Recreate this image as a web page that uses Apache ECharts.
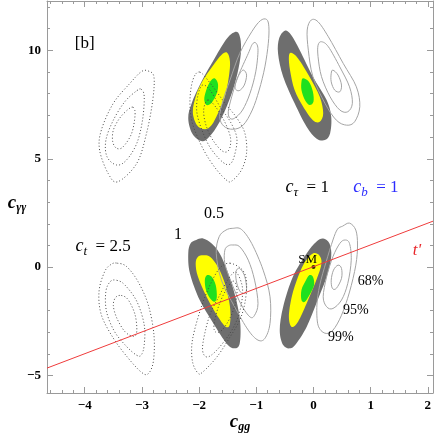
<!DOCTYPE html>
<html>
<head>
<meta charset="utf-8">
<script src="https://cdn.jsdelivr.net/npm/echarts@6/dist/echarts.min.js"></script>
<style>
  html, body { margin: 0; padding: 0; background: #fff; }
  #chart { width: 436px; height: 436px; }
</style>
</head>
<body>
<div id="chart"></div>
<script>
// axis ranges and ticks
const xMin = -4.66, xMax = 2.09;
const yMin = -5.81, yMax = 12.28;
const xMajor = [-4, -3, -2, -1, 0, 1, 2];
const xMinor = [-4.6, -4.4, -4.2, -3.8, -3.6, -3.4, -3.2, -2.8, -2.6, -2.4, -2.2, -1.8, -1.6, -1.4, -1.2,
  -0.8, -0.6, -0.4, -0.2, 0.2, 0.4, 0.6, 0.8, 1.2, 1.4, 1.6, 1.8, 2.0];
const yMajor = [-5, 0, 5, 10];
const yMinor = [-4, -3, -2, -1, 1, 2, 3, 4, 6, 7, 8, 9, 11, 12];

// filled confidence regions (99% gray, 95% yellow, 68% green), four copies
const grayUL = [[-1.35,10.86],[-1.28,10.56],[-1.27,9.87],[-1.33,8.94],[-1.45,7.86],[-1.64,6.71],[-1.83,5.99],[-1.96,5.82],[-2.12,6.17],[-2.19,6.87],[-2.13,7.56],[-1.96,8.55],[-1.73,9.63],[-1.51,10.56]];
const yellowUL = [[-1.51,9.89],[-1.46,9.48],[-1.48,8.79],[-1.55,7.86],[-1.67,7.10],[-1.78,6.56],[-1.90,6.36],[-2.04,6.56],[-2.11,7.17],[-2.05,7.94],[-1.93,8.63],[-1.75,9.33],[-1.61,9.79]];
const greenUL = [[-1.73,8.71],[-1.67,8.45],[-1.69,8.02],[-1.78,7.59],[-1.87,7.48],[-1.91,7.74],[-1.88,8.13],[-1.81,8.55]];
const grayUR = [[-0.50,10.91],[-0.39,10.71],[-0.24,10.01],[-0.01,8.79],[0.23,7.71],[0.31,6.94],[0.29,6.17],[0.20,5.86],[0.05,5.94],[-0.12,6.48],[-0.33,7.56],[-0.53,8.79],[-0.62,9.87],[-0.60,10.56]];
const yellowUR = [[-0.39,9.89],[-0.27,9.63],[-0.07,8.79],[0.11,7.86],[0.17,7.10],[0.11,6.71],[-0.01,6.78],[-0.18,7.40],[-0.33,8.17],[-0.41,9.09],[-0.43,9.71]];
const greenUR = [[-0.18,8.71],[-0.08,8.55],[-0.01,8.09],[0.00,7.63],[-0.07,7.48],[-0.15,7.71],[-0.21,8.17],[-0.21,8.55]];
const grayLL = [[-2.05,1.25],[-1.93,1.32],[-1.78,1.09],[-1.64,0.63],[-1.49,-0.29],[-1.35,-1.52],[-1.28,-2.60],[-1.29,-3.52],[-1.38,-3.75],[-1.52,-3.52],[-1.75,-2.60],[-1.99,-1.52],[-2.16,-0.29],[-2.19,0.63],[-2.15,1.09]];
const yellowLL = [[-1.93,0.55],[-1.81,0.48],[-1.67,0.01],[-1.55,-0.75],[-1.46,-1.83],[-1.46,-2.60],[-1.53,-2.76],[-1.67,-2.29],[-1.87,-1.37],[-2.02,-0.45],[-2.06,0.17],[-2.02,0.48]];
const greenLL = [[-1.86,-0.37],[-1.78,-0.45],[-1.71,-0.83],[-1.69,-1.37],[-1.73,-1.60],[-1.81,-1.44],[-1.88,-1.06],[-1.90,-0.60]];
const grayLR = [[0.17,1.32],[0.28,1.09],[0.31,0.48],[0.23,-0.45],[0.05,-1.68],[-0.12,-2.76],[-0.30,-3.52],[-0.41,-3.75],[-0.53,-3.60],[-0.59,-2.91],[-0.53,-1.83],[-0.36,-0.45],[-0.12,0.63],[0.05,1.17]];
const yellowLR = [[-0.01,0.63],[0.10,0.55],[0.14,0.17],[0.05,-0.60],[-0.12,-1.68],[-0.27,-2.52],[-0.38,-2.76],[-0.43,-2.29],[-0.38,-1.37],[-0.27,-0.45],[-0.15,0.24]];
const greenLR = [[-0.07,-0.37],[-0.01,-0.45],[0.01,-0.83],[-0.07,-1.29],[-0.15,-1.60],[-0.21,-1.52],[-0.21,-1.06],[-0.13,-0.60]];

// solid open contours
const solidUL1 = [[-0.82,11.43],[-0.78,11.09],[-0.79,10.33],[-0.85,9.24],[-0.95,8.17],[-1.07,7.25],[-1.23,6.55],[-1.41,6.36],[-1.57,6.51],[-1.64,6.94],[-1.58,7.71],[-1.46,8.63],[-1.29,9.86],[-1.08,10.86],[-0.93,11.37]];
const solidUL2 = [[-1.01,10.35],[-0.97,10.01],[-1.01,9.01],[-1.11,8.02],[-1.24,7.25],[-1.38,6.87],[-1.46,6.87],[-1.49,7.17],[-1.43,7.86],[-1.32,8.79],[-1.14,9.86],[-1.07,10.28]];
const solidUL3 = [[-1.22,9.09],[-1.17,8.86],[-1.21,8.40],[-1.30,8.14],[-1.37,8.25],[-1.35,8.60],[-1.28,8.97]];
const solidUR1 = [[-0.04,11.40],[0.08,11.32],[0.26,10.63],[0.52,9.40],[0.75,8.32],[0.81,7.40],[0.72,6.71],[0.58,6.55],[0.40,6.78],[0.20,7.56],[-0.01,8.79],[-0.09,10.01],[-0.11,10.94]];
const solidUR2 = [[0.14,10.40],[0.26,10.17],[0.46,9.24],[0.63,8.32],[0.68,7.56],[0.60,7.17],[0.46,7.25],[0.29,7.86],[0.14,8.79],[0.08,9.71],[0.08,10.24]];
const solidUR3 = [[0.34,9.09],[0.43,8.86],[0.49,8.40],[0.46,8.09],[0.37,8.17],[0.31,8.55],[0.31,8.94]];
const solidLL1 = [[-1.41,1.79],[-1.26,1.74],[-1.08,1.09],[-0.88,-0.14],[-0.76,-1.37],[-0.76,-2.60],[-0.85,-3.29],[-0.97,-3.37],[-1.14,-2.91],[-1.38,-1.83],[-1.61,-0.60],[-1.70,0.63],[-1.65,1.40],[-1.53,1.71]];
const solidLL2 = [[-1.41,1.02],[-1.29,0.94],[-1.14,0.32],[-1.03,-0.60],[-0.97,-1.68],[-1.03,-2.22],[-1.11,-2.30],[-1.26,-1.75],[-1.43,-0.75],[-1.55,0.17],[-1.55,0.78],[-1.49,0.98]];
const solidLL3 = [[-1.32,-0.06],[-1.26,-0.14],[-1.20,-0.45],[-1.17,-0.98],[-1.20,-1.21],[-1.28,-1.14],[-1.34,-0.75],[-1.36,-0.29]];
const solidLR1 = [[0.51,1.89],[0.63,2.03],[0.74,1.71],[0.77,1.02],[0.74,0.09],[0.63,-1.15],[0.49,-2.22],[0.34,-2.91],[0.20,-3.05],[0.08,-2.68],[0.06,-1.75],[0.11,-0.83],[0.22,0.23],[0.34,1.25],[0.42,1.75]];
const solidLR2 = [[0.55,1.25],[0.63,1.09],[0.66,0.32],[0.60,-0.75],[0.49,-1.52],[0.34,-1.91],[0.23,-1.83],[0.17,-1.37],[0.23,-0.45],[0.34,0.48],[0.46,1.09]];
const solidLR3 = [[0.43,0.09],[0.49,-0.06],[0.49,-0.52],[0.40,-0.98],[0.33,-0.98],[0.31,-0.60],[0.35,-0.14]];

// dotted contours
const dotUFL1 = [[-2.89,9.05],[-2.79,8.78],[-2.81,7.71],[-2.92,6.17],[-3.09,4.79],[-3.42,3.94],[-3.59,4.32],[-3.74,5.40],[-3.71,6.32],[-3.50,7.56],[-3.21,8.48],[-3.01,9.02]];
const dotUFL2 = [[-3.01,8.20],[-2.96,7.86],[-2.99,6.78],[-3.09,5.71],[-3.27,4.94],[-3.44,4.71],[-3.61,5.09],[-3.63,5.86],[-3.50,6.78],[-3.30,7.63],[-3.09,8.14]];
const dotUFL3 = [[-3.15,7.37],[-3.12,7.02],[-3.18,6.17],[-3.33,5.55],[-3.44,5.48],[-3.51,5.78],[-3.50,6.32],[-3.39,6.87],[-3.24,7.28]];
const dotUM1 = [[-1.99,9.00],[-2.11,8.63],[-2.16,7.71],[-2.13,6.78],[-2.02,5.95],[-1.87,5.17],[-1.69,4.48],[-1.52,4.01],[-1.43,3.97],[-1.26,4.48],[-1.17,5.26],[-1.20,6.18],[-1.34,6.88],[-1.55,7.57],[-1.78,8.40]];
const dotUM2 = [[-1.94,8.40],[-2.02,7.94],[-2.04,7.16],[-1.95,6.32],[-1.80,5.49],[-1.59,4.85],[-1.46,4.75],[-1.38,5.17],[-1.34,5.95],[-1.45,6.69],[-1.64,7.43],[-1.81,8.17]];
const dotUM3 = [[-1.85,7.71],[-1.92,7.25],[-1.88,6.55],[-1.76,5.86],[-1.59,5.35],[-1.48,5.40],[-1.45,5.95],[-1.55,6.69],[-1.71,7.39]];
const dotLFL1 = [[-3.43,0.18],[-3.27,0.03],[-3.07,-0.66],[-2.89,-1.74],[-2.79,-3.12],[-2.80,-4.35],[-2.89,-4.92],[-3.01,-4.85],[-3.24,-4.20],[-3.50,-3.28],[-3.71,-2.20],[-3.75,-1.12],[-3.65,-0.20],[-3.53,0.14]];
const dotLFL2 = [[-3.44,-0.61],[-3.30,-0.82],[-3.09,-1.58],[-2.96,-2.66],[-2.96,-3.59],[-3.01,-4.05],[-3.09,-4.07],[-3.27,-3.66],[-3.48,-2.97],[-3.62,-2.04],[-3.63,-1.12],[-3.55,-0.66]];
const dotLFL3 = [[-3.36,-1.31],[-3.24,-1.51],[-3.12,-2.20],[-3.09,-2.97],[-3.15,-3.20],[-3.30,-2.97],[-3.44,-2.35],[-3.50,-1.77],[-3.46,-1.40]];
const dotLM1 = [[-1.46,0.18],[-1.24,-0.14],[-1.17,-0.74],[-1.20,-1.66],[-1.29,-2.45],[-1.46,-3.23],[-1.69,-4.15],[-1.94,-4.85],[-2.02,-4.89],[-2.11,-4.43],[-2.13,-3.69],[-2.08,-2.91],[-1.95,-1.75],[-1.81,-0.83],[-1.64,-0.05]];
const dotLM2 = [[-1.36,-0.23],[-1.25,-0.83],[-1.25,-1.52],[-1.32,-2.31],[-1.46,-3.05],[-1.69,-3.83],[-1.86,-4.15],[-1.94,-3.83],[-1.90,-3.05],[-1.80,-2.12],[-1.64,-1.29],[-1.50,-0.60]];
const dotLM3 = [[-1.41,-0.65],[-1.34,-0.97],[-1.36,-1.62],[-1.46,-2.35],[-1.60,-2.91],[-1.71,-3.00],[-1.74,-2.68],[-1.67,-1.89],[-1.55,-1.15]];

// t' line and SM point
const tLineX = [-4.66, 2.09];
const tLineY = [-4.66, 2.12];
const smPoint = [0, 0];

// annotations
const labelText = ['[b]', '{i|c}{s|τ}  = 1', '{i|c}{s|b}  = 1', '0.5', '1', '{i|c}{s|t}  = 2.5', "t'", 'SM', '68%', '95%', '99%'];
const labelX = [-4.00, -0.11, 1.09, -1.74, -2.37, -3.68, 1.81, -0.10, 1.00, 0.74, 0.48];
const labelY = [10.34, 3.69, 3.69, 2.45, 1.48, 0.97, 0.78, 0.35, -0.65, -1.98, -3.25];

const SERIF = 'Liberation Serif';
const labelColor = ['#000', '#000', '#2b2bff', '#000', '#000', '#000', '#e8262a', '#000', '#000', '#000', '#000'];
const labelSize = [17, 17, 17, 16, 16, 17, 17, 13, 14, 14, 14];

const chart = echarts.init(document.getElementById('chart'));

// closed smooth curve through the read points (Catmull-Rom as cubic Bezier)
function closedCurve(pts) {
    const n = pts.length;
    let d = 'M' + pts[0][0].toFixed(2) + ' ' + pts[0][1].toFixed(2);
    for (let i = 0; i < n; i++) {
        const p0 = pts[(i - 1 + n) % n], p1 = pts[i], p2 = pts[(i + 1) % n], p3 = pts[(i + 2) % n];
        const c1x = p1[0] + (p2[0] - p0[0]) / 6, c1y = p1[1] + (p2[1] - p0[1]) / 6;
        const c2x = p2[0] - (p3[0] - p1[0]) / 6, c2y = p2[1] - (p3[1] - p1[1]) / 6;
        d += 'C' + c1x.toFixed(2) + ' ' + c1y.toFixed(2) + ' ' + c2x.toFixed(2) + ' ' + c2y.toFixed(2)
            + ' ' + p2[0].toFixed(2) + ' ' + p2[1].toFixed(2);
    }
    return d + 'Z';
}

function polySeries(list, style) {
    return {
        type: 'custom',
        silent: true,
        data: list.map((p, i) => [p[0][0], p[0][1], i]),
        renderItem: function (params, api) {
            const pts = list[params.dataIndex].map(p => api.coord(p));
            return {
                type: 'path',
                shape: { pathData: closedCurve(pts) },
                style: Object.assign({}, style)
            };
        }
    };
}

const minus = v => String(v).replace('-', '\u2212');
const axisGray = '#9a9a9a';

function xAx(pos, ticks, len, withLabel) {
    const ax = {
        type: 'value', position: pos, min: xMin, max: xMax,
        axisLine: { show: withLabel, onZero: false, lineStyle: { color: axisGray, width: 1 } },
        axisTick: { show: true, inside: true, length: len, customValues: ticks, lineStyle: { color: axisGray } },
        axisLabel: { show: false },
        splitLine: { show: false }
    };
    if (withLabel && pos === 'bottom') {
        ax.axisLabel = {
            show: true, customValues: ticks, formatter: minus, margin: 6,
            fontFamily: SERIF, fontWeight: 'bold', fontSize: 13, color: '#000'
        };
    }
    return ax;
}

function yAx(pos, ticks, len, withLabel) {
    const ax = {
        type: 'value', position: pos, min: yMin, max: yMax,
        axisLine: { show: withLabel, onZero: false, lineStyle: { color: axisGray, width: 1 } },
        axisTick: { show: true, inside: true, length: len, customValues: ticks, lineStyle: { color: axisGray } },
        axisLabel: { show: false },
        splitLine: { show: false }
    };
    if (withLabel && pos === 'left') {
        ax.axisLabel = {
            show: true, customValues: ticks, formatter: minus, margin: 6,
            fontFamily: SERIF, fontWeight: 'bold', fontSize: 13, color: '#000'
        };
    }
    return ax;
}

const titleRich = {
    c: { fontFamily: SERIF, fontStyle: 'italic', fontWeight: 'bold', fontSize: 19, fill: '#000' },
    s: { fontFamily: SERIF, fontStyle: 'italic', fontWeight: 'bold', fontSize: 12, fill: '#000', padding: [10, 0, 0, 0] }
};

const fillGray = { fill: '#6e6e6e', stroke: null };
const fillYellow = { fill: '#ffff00', stroke: null };
const fillGreen = { fill: '#1fe01f', stroke: null };
const solidStyle = { fill: null, stroke: '#a4a4a4', lineWidth: 1 };
const dotStyle = { fill: null, stroke: '#4a4a4a', lineWidth: 1, lineDash: [1, 2.2] };

chart.setOption({
    animation: false,
    grid: { left: 47, right: 3, top: 1, bottom: 43, containLabel: false },
    graphic: [
        { type: 'text', x: 240, y: 422, style: { text: '{c|c}{s|gg}', rich: titleRich, align: 'center', verticalAlign: 'middle' } },
        { type: 'text', x: 17, y: 203, style: { text: '{c|c}{s|γγ}', rich: titleRich, align: 'center', verticalAlign: 'middle' } }
    ],
    xAxis: [
        xAx('bottom', xMajor, 6, true),
        xAx('bottom', xMinor, 3, false),
        xAx('top', xMajor, 6, true),
        xAx('top', xMinor, 3, false)
    ],
    yAxis: [
        yAx('left', yMajor, 6, true),
        yAx('left', yMinor, 3, false),
        yAx('right', yMajor, 6, true),
        yAx('right', yMinor, 3, false)
    ],
    series: [
        polySeries([grayUL, grayUR, grayLL, grayLR], fillGray),
        polySeries([yellowUL, yellowUR, yellowLL, yellowLR], fillYellow),
        polySeries([greenUL, greenUR, greenLL, greenLR], fillGreen),
        polySeries([solidUL1, solidUL2, solidUL3, solidUR1, solidUR2, solidUR3,
                    solidLL1, solidLL2, solidLL3, solidLR1, solidLR2, solidLR3], solidStyle),
        polySeries([dotUFL1, dotUFL2, dotUFL3, dotUM1, dotUM2, dotUM3,
                    dotLFL1, dotLFL2, dotLFL3, dotLM1, dotLM2, dotLM3], dotStyle),
        {
            type: 'line', silent: true, symbol: 'none', clip: true,
            data: tLineX.map((x, i) => [x, tLineY[i]]),
            lineStyle: { color: '#ef3b3b', width: 1 }
        },
        {
            type: 'scatter', silent: true, symbolSize: 4,
            data: [smPoint], itemStyle: { color: '#000' }
        },
        {
            type: 'custom', silent: true,
            data: labelX.map((x, i) => [x, labelY[i], i]),
            renderItem: function (params, api) {
                const i = params.dataIndex;
                const p = api.coord([labelX[i], labelY[i]]);
                const sz = labelSize[i];
                const col = labelColor[i];
                return {
                    type: 'text', x: p[0], y: p[1],
                    style: {
                        text: labelText[i], align: 'center', verticalAlign: 'middle',
                        fontFamily: SERIF, fontSize: sz, fill: col,
                        fontStyle: i === 6 ? 'italic' : 'normal',
                        rich: {
                            i: { fontFamily: SERIF, fontStyle: 'italic', fontSize: sz + 1, fill: col },
                            s: { fontFamily: SERIF, fontStyle: 'italic', fontSize: sz - 4, fill: col, padding: [11, 0, 0, 0] }
                        }
                    }
                };
            }
        }
    ]
});
</script>
</body>
</html>
